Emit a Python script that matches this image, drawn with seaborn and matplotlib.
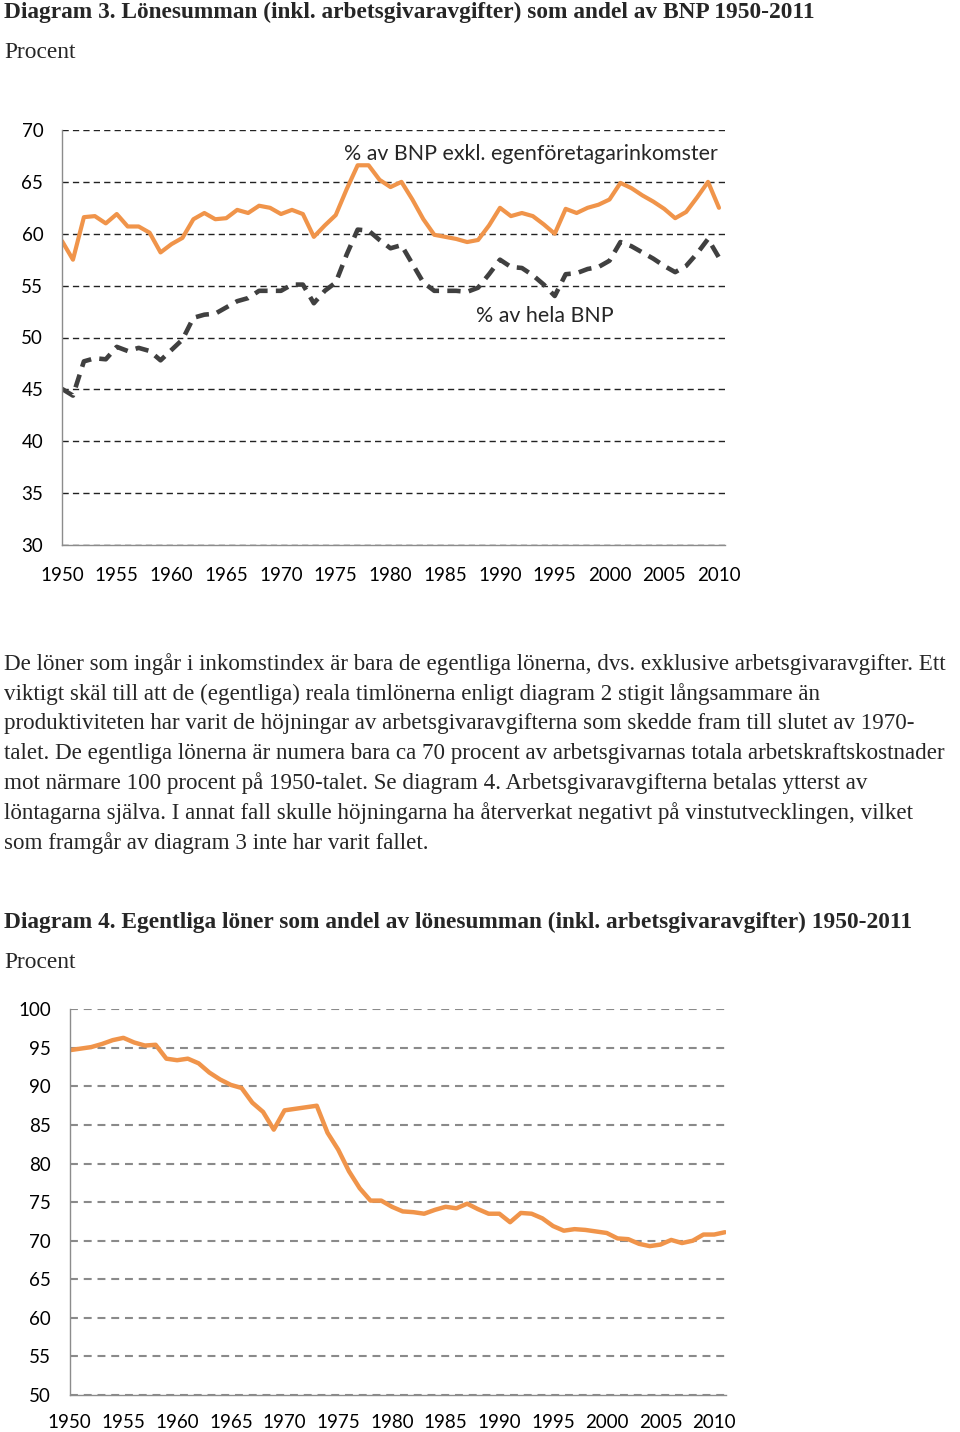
import numpy as np
import pandas as pd
import seaborn as sns
import matplotlib.pyplot as plt

# --- data ---
years_top = list(range(1950, 2011))
excl_self_employed = [59.3, 57.5, 61.6, 61.7, 61.0, 61.9, 60.7, 60.7, 60.1, 58.2,
                      59.0, 59.6, 61.4, 62.0, 61.4, 61.5, 62.3, 62.0, 62.7, 62.5,
                      61.9, 62.3, 61.9, 59.7, 60.8, 61.8, 64.3, 66.6, 66.6, 65.2,
                      64.5, 65.0, 63.3, 61.4, 59.9, 59.7, 59.5, 59.2, 59.4, 60.8,
                      62.5, 61.7, 62.0, 61.7, 60.9, 60.0, 62.4, 62.0, 62.5, 62.8,
                      63.3, 64.9, 64.4, 63.7, 63.1, 62.4, 61.5, 62.1, 63.5, 65.0, 62.5]
whole_gdp = [45.05, 44.4, 47.7, 48.0, 47.9, 49.1, 48.7, 49.0, 48.7, 47.8,
             48.8, 49.8, 51.9, 52.2, 52.3, 52.9, 53.5, 53.8, 54.5, 54.5,
             54.5, 55.1, 55.1, 53.3, 54.5, 55.3, 58.0, 60.4, 60.3, 59.4,
             58.6, 58.9, 57.1, 55.3, 54.5, 54.5, 54.5, 54.4, 54.8, 56.1,
             57.5, 56.8, 56.7, 56.0, 55.1, 54.0, 56.1, 56.2, 56.6, 56.8,
             57.4, 59.2, 58.8, 58.2, 57.6, 56.9, 56.3, 56.9, 58.1, 59.5, 57.7]

years_bottom = list(range(1950, 2012))
wage_share = [94.7, 94.9, 95.1, 95.5, 96.0, 96.3, 95.7, 95.3, 95.4, 93.6,
              93.4, 93.6, 93.0, 91.8, 90.9, 90.2, 89.8, 87.9, 86.7, 84.4,
              86.9, 87.1, 87.3, 87.5, 84.0, 81.8, 79.0, 76.8, 75.2, 75.2,
              74.4, 73.8, 73.7, 73.5, 74.0, 74.4, 74.2, 74.8, 74.1, 73.5,
              73.5, 72.4, 73.6, 73.5, 72.9, 71.9, 71.3, 71.5, 71.4, 71.2,
              71.0, 70.3, 70.2, 69.6, 69.3, 69.5, 70.1, 69.7, 70.0, 70.8, 70.8, 71.1]

x_ticks = list(range(1950, 2011, 5))
y_ticks_top = [30, 35, 40, 45, 50, 55, 60, 65, 70]
y_ticks_bottom = [50, 55, 60, 65, 70, 75, 80, 85, 90, 95, 100]

title3 = "Diagram 3. Lönesumman (inkl. arbetsgivaravgifter) som andel av BNP 1950-2011"
title4 = "Diagram 4. Egentliga löner som andel av lönesumman (inkl. arbetsgivaravgifter) 1950-2011"
label_excl = "% av BNP exkl. egenföretagarinkomster"
label_whole = "% av hela BNP"
paragraph = [
    "De löner som ingår i inkomstindex är bara de egentliga lönerna, dvs. exklusive arbetsgivaravgifter. Ett",
    "viktigt skäl till att de (egentliga) reala timlönerna enligt diagram 2 stigit långsammare än",
    "produktiviteten har varit de höjningar av arbetsgivaravgifterna som skedde fram till slutet av 1970-",
    "talet. De egentliga lönerna är numera bara ca 70 procent av arbetsgivarnas totala arbetskraftskostnader",
    "mot närmare 100 procent på 1950-talet. Se diagram 4. Arbetsgivaravgifterna betalas ytterst av",
    "löntagarna själva. I annat fall skulle höjningarna ha återverkat negativt på vinstutvecklingen, vilket",
    "som framgår av diagram 3 inte har varit fallet.",
]

top = pd.DataFrame({"year": years_top, "excl": excl_self_employed, "whole": whole_gdp})
bottom = pd.DataFrame({"year": years_bottom, "share": wage_share})

sns.set_theme(style="white")
plt.rcParams["font.family"] = ["Lato", "DejaVu Sans"]

orange = "#F0944A"
dark = "#404040"
axis_grey = "#8C8C8C"
H = 1432.0

fig = plt.figure(figsize=(9.6, 14.32), dpi=100)


def style_axis(ax, grid_color, grid_lw, grid_dash, xpad):
    for side in ["top", "right"]:
        ax.spines[side].set_visible(False)
    for side in ["left", "bottom"]:
        ax.spines[side].set_color(axis_grey)
        ax.spines[side].set_linewidth(1.0)
    ax.yaxis.grid(True, color=grid_color, linewidth=grid_lw, linestyle=grid_dash)
    ax.xaxis.grid(False)
    ax.tick_params(axis="both", direction="out", color=axis_grey, length=4.5,
                   width=1.0, labelsize=13.5, labelcolor="black")
    ax.tick_params(axis="y", pad=9)
    ax.tick_params(axis="x", pad=xpad)
    ax.set_xlabel("")
    ax.set_ylabel("")


# Diagram 3
ax1 = fig.add_axes([62 / 960, (H - 545) / H, (725 - 62) / 960, (545 - 130) / H])
sns.lineplot(data=top, x="year", y="excl", ax=ax1, color=orange, linewidth=3.0)
sns.lineplot(data=top, x="year", y="whole", ax=ax1, color=dark, linewidth=3.3,
             linestyle=(0, (2.9, 1.8)))
ax1.set_xlim(1950, 2010.55)
ax1.set_ylim(30, 70)
ax1.set_xticks(x_ticks)
ax1.set_yticks(y_ticks_top)
style_axis(ax1, "#222222", 1.0, (0, (4.5, 3)), 11)
ax1.text(1992.8, 67.7, label_excl, ha="center", va="center", fontsize=15.4)
ax1.text(1994.1, 52.1, label_whole, ha="center", va="center", fontsize=15.4)

# Diagram 4
ax2 = fig.add_axes([69.7 / 960, (H - 1395) / H, (726 - 69.7) / 960, (1395 - 1009.3) / H])
sns.lineplot(data=bottom, x="year", y="share", ax=ax2, color=orange, linewidth=3.2)
ax2.set_xlim(1950, 2011.1)
ax2.set_ylim(50, 100)
ax2.set_xticks(x_ticks)
ax2.set_yticks(y_ticks_bottom)
style_axis(ax2, "#8A8A8A", 1.5, (0, (3.8, 2.8)), 9.5)

# surrounding document text
serif = ["Liberation Serif", "DejaVu Serif"]
fs = 16.8
fig.text(4 / 960, 1 - 12 / H, title3, family=serif, weight="bold", fontsize=fs,
         ha="left", va="center")
fig.text(4 / 960, 1 - 52 / H, "Procent", family=serif, fontsize=fs,
         ha="left", va="center")
for i, line in enumerate(paragraph):
    fig.text(4 / 960, 1 - (664 + 29.8 * i) / H, line, family=serif, fontsize=16.55,
             ha="left", va="center")
fig.text(4 / 960, 1 - 922 / H, title4, family=serif, weight="bold", fontsize=fs,
         ha="left", va="center")
fig.text(4 / 960, 1 - 962 / H, "Procent", family=serif, fontsize=fs,
         ha="left", va="center")

fig.savefig("out.png", dpi=100)
